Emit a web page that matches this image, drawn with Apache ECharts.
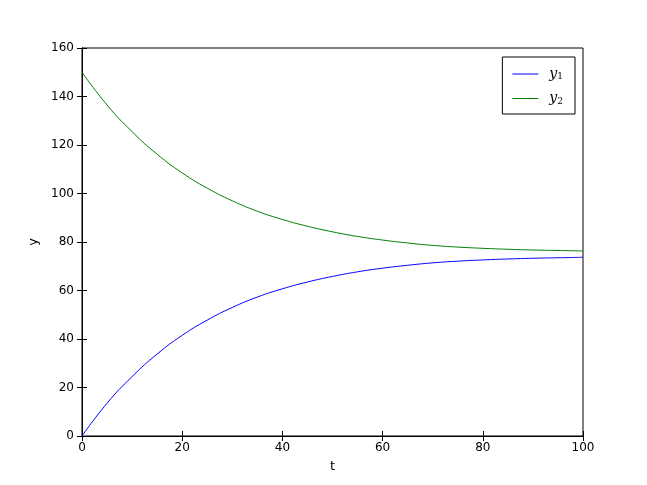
<!DOCTYPE html>
<html>
<head>
<meta charset="utf-8">
<script src="https://cdn.jsdelivr.net/npm/echarts@6/dist/echarts.min.js"></script>
<style>
  html, body { margin: 0; padding: 0; background: #fff; }
  #chart { width: 647px; height: 485px; }
</style>
</head>
<body>
<div id="chart"></div>
<script>
// values, every 5 units of t
var tValues = [0, 5, 10, 15, 20, 25, 30, 35, 40, 45, 50, 55, 60, 65, 70, 75, 80, 85, 90, 95, 100];
var y1Values = [0, 13.5, 24.5, 33.8, 41.5, 47.8, 53.0, 57.3, 60.7, 63.5, 65.8, 67.7, 69.2, 70.4, 71.4, 72.1, 72.6, 73.0, 73.3, 73.5, 73.7];
var y2Values = [150, 136.5, 125.5, 116.2, 108.5, 102.2, 97.0, 92.7, 89.3, 86.5, 84.2, 82.3, 80.8, 79.6, 78.6, 77.9, 77.4, 77.0, 76.7, 76.5, 76.3];
var seriesNames = ["y1", "y2"];

function pairs(ys) {
  return tValues.map(function (t, i) { return [t, ys[i]]; });
}

var font = "DejaVu Sans";
var tickStyle = { show: true, inside: true, length: 5, lineStyle: { color: "#000" } };

var chart = echarts.init(document.getElementById("chart"));
chart.setOption({
  animation: false,
  backgroundColor: "#fff",
  grid: { left: 82, right: 64, top: 48, bottom: 49, show: true, borderColor: "#000", borderWidth: 1 },
  legend: {
    orient: "vertical",
    right: 72,
    top: 57,
    data: seriesNames,
    borderColor: "#000",
    borderWidth: 1,
    backgroundColor: "#fff",
    padding: [10, 12, 8, 10],
    itemWidth: 26,
    itemHeight: 10,
    itemGap: 10,
    icon: "path://M0,4.5L26,4.5L26,5.5L0,5.5Z",
    formatter: function (name) {
      return "{y|y}{s|" + name.slice(1) + "}";
    },
    textStyle: {
      rich: {
        y: { fontFamily: "DejaVu Serif", fontStyle: "italic", fontSize: 14, color: "#000", padding: [0, 0, 0, 6] },
        s: { fontFamily: "DejaVu Serif", fontSize: 9, color: "#000", verticalAlign: "bottom", padding: [6, 0, 0, 0] }
      }
    }
  },
  xAxis: [
    {
      type: "value", min: 0, max: 100, interval: 20,
      name: "t", nameLocation: "middle", nameGap: 24,
      nameTextStyle: { fontFamily: font, fontSize: 13, color: "#000" },
      axisLine: { show: true, lineStyle: { color: "#000" } },
      axisTick: tickStyle,
      axisLabel: { fontFamily: font, fontSize: 12, color: "#000", margin: 6 },
      splitLine: { show: false }
    },
    {
      type: "value", min: 0, max: 100, interval: 20, position: "top",
      axisLine: { show: true, lineStyle: { color: "#000" } },
      axisTick: tickStyle,
      axisLabel: { show: false },
      splitLine: { show: false }
    }
  ],
  yAxis: [
    {
      type: "value", min: 0, max: 160, interval: 20,
      name: "y", nameLocation: "middle", nameGap: 40,
      nameTextStyle: { fontFamily: font, fontSize: 13, color: "#000" },
      axisLine: { show: true, lineStyle: { color: "#000" } },
      axisTick: tickStyle,
      axisLabel: { fontFamily: font, fontSize: 12, color: "#000", margin: 8 },
      splitLine: { show: false }
    },
    {
      type: "value", min: 0, max: 160, interval: 20, position: "right",
      axisLine: { show: true, lineStyle: { color: "#000" } },
      axisTick: tickStyle,
      axisLabel: { show: false },
      splitLine: { show: false }
    }
  ],
  series: [
    {
      name: seriesNames[0], type: "line", data: pairs(y1Values),
      smooth: true, showSymbol: false, symbol: "none",
      itemStyle: { color: "#0000ff" },
      lineStyle: { color: "#0000ff", width: 1 }
    },
    {
      name: seriesNames[1], type: "line", data: pairs(y2Values),
      smooth: true, showSymbol: false, symbol: "none",
      itemStyle: { color: "#008000" },
      lineStyle: { color: "#008000", width: 1 }
    }
  ]
});
</script>
</body>
</html>
